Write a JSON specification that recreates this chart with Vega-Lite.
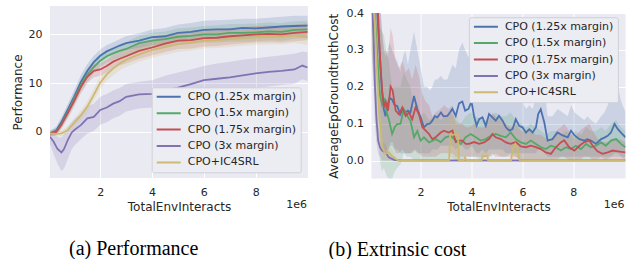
{
  "$schema": "https://vega.github.io/schema/vega-lite/v6.json",
  "padding": {"left": 11, "top": 6, "right": 0, "bottom": 0},
  "background": "white",
  "config": {
    "view": {"fill": "#EAEAF2", "stroke": null},
    "axis": {"domain": false, "ticks": false, "grid": true, "gridColor": "white", "gridWidth": 1, "labelFont": "DejaVu Sans", "labelFontSize": 11, "labelColor": "#262626", "labelPadding": 8, "labelFlush": false, "titleFont": "DejaVu Sans", "titleFontSize": 12, "titleFontWeight": "normal", "titleColor": "#262626"},
    "legend": {"labelFont": "DejaVu Sans", "labelFontSize": 11, "labelColor": "#262626", "symbolType": "stroke", "symbolSize": 576, "symbolStrokeWidth": 2, "clipHeight": 11, "padding": 4, "rowPadding": 4.4, "labelOffset": 6, "fillColor": "#ECECF3", "strokeColor": "#D0D0D8", "cornerRadius": 2},
    "title": {"font": "Liberation Serif", "fontSize": 20, "fontWeight": "normal", "color": "black", "orient": "bottom", "anchor": "start", "frame": "group", "offset": 27}
  },
  "resolve": {"scale": {"color": "independent"}, "legend": {"color": "independent"}},
  "spacing": 18.5,
  "datasets": {
    "perf": [
      {"s": "CPO (1.25x margin)", "x": 0.06, "y": -0.3, "lo": -0.8, "hi": 0.2},
      {"s": "CPO (1.25x margin)", "x": 0.3, "y": 0.3, "lo": -0.5, "hi": 1.1},
      {"s": "CPO (1.25x margin)", "x": 0.5, "y": 2.0, "lo": 1.0, "hi": 3.0},
      {"s": "CPO (1.25x margin)", "x": 0.75, "y": 4.6, "lo": 3.4, "hi": 5.8},
      {"s": "CPO (1.25x margin)", "x": 1.0, "y": 7.3, "lo": 6.0, "hi": 8.6},
      {"s": "CPO (1.25x margin)", "x": 1.25, "y": 10.2, "lo": 8.8, "hi": 11.6},
      {"s": "CPO (1.25x margin)", "x": 1.5, "y": 12.5, "lo": 11.1, "hi": 13.9},
      {"s": "CPO (1.25x margin)", "x": 1.75, "y": 14.3, "lo": 13.0, "hi": 15.6},
      {"s": "CPO (1.25x margin)", "x": 2.0, "y": 15.6, "lo": 14.3, "hi": 16.9},
      {"s": "CPO (1.25x margin)", "x": 2.25, "y": 16.5, "lo": 15.2, "hi": 17.8},
      {"s": "CPO (1.25x margin)", "x": 2.5, "y": 17.1, "lo": 15.9, "hi": 18.4},
      {"s": "CPO (1.25x margin)", "x": 2.75, "y": 17.7, "lo": 16.4, "hi": 19.0},
      {"s": "CPO (1.25x margin)", "x": 3.0, "y": 18.2, "lo": 16.8, "hi": 19.6},
      {"s": "CPO (1.25x margin)", "x": 3.5, "y": 18.7, "lo": 17.2, "hi": 20.2},
      {"s": "CPO (1.25x margin)", "x": 4.0, "y": 19.4, "lo": 17.8, "hi": 21.0},
      {"s": "CPO (1.25x margin)", "x": 4.5, "y": 19.6, "lo": 17.9, "hi": 21.3},
      {"s": "CPO (1.25x margin)", "x": 5.0, "y": 20.3, "lo": 18.5, "hi": 22.0},
      {"s": "CPO (1.25x margin)", "x": 5.5, "y": 20.5, "lo": 18.7, "hi": 22.3},
      {"s": "CPO (1.25x margin)", "x": 6.0, "y": 20.9, "lo": 19.0, "hi": 22.8},
      {"s": "CPO (1.25x margin)", "x": 6.5, "y": 21.0, "lo": 19.1, "hi": 22.9},
      {"s": "CPO (1.25x margin)", "x": 7.0, "y": 21.0, "lo": 19.1, "hi": 23.0},
      {"s": "CPO (1.25x margin)", "x": 7.5, "y": 21.3, "lo": 19.3, "hi": 23.2},
      {"s": "CPO (1.25x margin)", "x": 8.0, "y": 21.2, "lo": 19.3, "hi": 23.2},
      {"s": "CPO (1.25x margin)", "x": 8.5, "y": 21.4, "lo": 19.4, "hi": 23.4},
      {"s": "CPO (1.25x margin)", "x": 9.0, "y": 21.6, "lo": 19.6, "hi": 23.6},
      {"s": "CPO (1.25x margin)", "x": 9.5, "y": 21.7, "lo": 19.7, "hi": 23.8},
      {"s": "CPO (1.25x margin)", "x": 10.0, "y": 21.8, "lo": 19.8, "hi": 23.8},
      {"s": "CPO (1.5x margin)", "x": 0.06, "y": -0.3, "lo": -0.8, "hi": 0.2},
      {"s": "CPO (1.5x margin)", "x": 0.3, "y": 0.1, "lo": -0.6, "hi": 0.8},
      {"s": "CPO (1.5x margin)", "x": 0.5, "y": 1.6, "lo": 0.7, "hi": 2.5},
      {"s": "CPO (1.5x margin)", "x": 0.75, "y": 4.1, "lo": 3.0, "hi": 5.2},
      {"s": "CPO (1.5x margin)", "x": 1.0, "y": 6.8, "lo": 5.6, "hi": 8.0},
      {"s": "CPO (1.5x margin)", "x": 1.25, "y": 9.6, "lo": 8.3, "hi": 10.9},
      {"s": "CPO (1.5x margin)", "x": 1.5, "y": 11.7, "lo": 10.3, "hi": 13.1},
      {"s": "CPO (1.5x margin)", "x": 1.75, "y": 13.3, "lo": 12.0, "hi": 14.6},
      {"s": "CPO (1.5x margin)", "x": 2.0, "y": 14.6, "lo": 13.3, "hi": 15.9},
      {"s": "CPO (1.5x margin)", "x": 2.25, "y": 15.5, "lo": 14.2, "hi": 16.8},
      {"s": "CPO (1.5x margin)", "x": 2.5, "y": 16.1, "lo": 14.8, "hi": 17.4},
      {"s": "CPO (1.5x margin)", "x": 2.75, "y": 16.6, "lo": 15.3, "hi": 17.9},
      {"s": "CPO (1.5x margin)", "x": 3.0, "y": 17.0, "lo": 15.6, "hi": 18.4},
      {"s": "CPO (1.5x margin)", "x": 3.5, "y": 18.2, "lo": 16.7, "hi": 19.7},
      {"s": "CPO (1.5x margin)", "x": 4.0, "y": 18.7, "lo": 17.1, "hi": 20.3},
      {"s": "CPO (1.5x margin)", "x": 4.5, "y": 19.0, "lo": 17.4, "hi": 20.6},
      {"s": "CPO (1.5x margin)", "x": 5.0, "y": 19.5, "lo": 17.8, "hi": 21.2},
      {"s": "CPO (1.5x margin)", "x": 5.5, "y": 19.7, "lo": 18.0, "hi": 21.4},
      {"s": "CPO (1.5x margin)", "x": 6.0, "y": 20.0, "lo": 18.3, "hi": 21.7},
      {"s": "CPO (1.5x margin)", "x": 6.5, "y": 20.0, "lo": 18.3, "hi": 21.8},
      {"s": "CPO (1.5x margin)", "x": 7.0, "y": 20.3, "lo": 18.5, "hi": 22.1},
      {"s": "CPO (1.5x margin)", "x": 7.5, "y": 20.3, "lo": 18.5, "hi": 22.1},
      {"s": "CPO (1.5x margin)", "x": 8.0, "y": 20.4, "lo": 18.6, "hi": 22.2},
      {"s": "CPO (1.5x margin)", "x": 8.5, "y": 20.6, "lo": 18.8, "hi": 22.4},
      {"s": "CPO (1.5x margin)", "x": 9.0, "y": 20.5, "lo": 18.7, "hi": 22.3},
      {"s": "CPO (1.5x margin)", "x": 9.5, "y": 20.9, "lo": 19.1, "hi": 22.7},
      {"s": "CPO (1.5x margin)", "x": 10.0, "y": 21.0, "lo": 19.2, "hi": 22.8},
      {"s": "CPO (1.75x margin)", "x": 0.06, "y": -0.3, "lo": -0.8, "hi": 0.2},
      {"s": "CPO (1.75x margin)", "x": 0.3, "y": 0.0, "lo": -0.7, "hi": 0.7},
      {"s": "CPO (1.75x margin)", "x": 0.5, "y": 1.5, "lo": 0.6, "hi": 2.4},
      {"s": "CPO (1.75x margin)", "x": 0.75, "y": 3.9, "lo": 2.8, "hi": 5.0},
      {"s": "CPO (1.75x margin)", "x": 1.0, "y": 6.4, "lo": 5.2, "hi": 7.6},
      {"s": "CPO (1.75x margin)", "x": 1.25, "y": 9.2, "lo": 7.9, "hi": 10.5},
      {"s": "CPO (1.75x margin)", "x": 1.5, "y": 11.3, "lo": 10.0, "hi": 12.6},
      {"s": "CPO (1.75x margin)", "x": 1.75, "y": 12.5, "lo": 11.2, "hi": 13.8},
      {"s": "CPO (1.75x margin)", "x": 2.0, "y": 12.8, "lo": 11.5, "hi": 14.1},
      {"s": "CPO (1.75x margin)", "x": 2.25, "y": 13.5, "lo": 12.2, "hi": 14.8},
      {"s": "CPO (1.75x margin)", "x": 2.5, "y": 14.4, "lo": 13.0, "hi": 15.8},
      {"s": "CPO (1.75x margin)", "x": 2.75, "y": 15.0, "lo": 13.6, "hi": 16.4},
      {"s": "CPO (1.75x margin)", "x": 3.0, "y": 15.5, "lo": 14.0, "hi": 17.0},
      {"s": "CPO (1.75x margin)", "x": 3.5, "y": 16.6, "lo": 15.0, "hi": 18.2},
      {"s": "CPO (1.75x margin)", "x": 4.0, "y": 17.3, "lo": 15.7, "hi": 18.9},
      {"s": "CPO (1.75x margin)", "x": 4.5, "y": 18.1, "lo": 16.4, "hi": 19.8},
      {"s": "CPO (1.75x margin)", "x": 5.0, "y": 18.7, "lo": 17.0, "hi": 20.4},
      {"s": "CPO (1.75x margin)", "x": 5.5, "y": 18.8, "lo": 17.1, "hi": 20.5},
      {"s": "CPO (1.75x margin)", "x": 6.0, "y": 19.2, "lo": 17.5, "hi": 20.9},
      {"s": "CPO (1.75x margin)", "x": 6.5, "y": 19.3, "lo": 17.6, "hi": 21.0},
      {"s": "CPO (1.75x margin)", "x": 7.0, "y": 19.6, "lo": 17.9, "hi": 21.3},
      {"s": "CPO (1.75x margin)", "x": 7.5, "y": 19.8, "lo": 18.1, "hi": 21.5},
      {"s": "CPO (1.75x margin)", "x": 8.0, "y": 20.0, "lo": 18.3, "hi": 21.7},
      {"s": "CPO (1.75x margin)", "x": 8.5, "y": 20.1, "lo": 18.4, "hi": 21.8},
      {"s": "CPO (1.75x margin)", "x": 9.0, "y": 20.0, "lo": 18.3, "hi": 21.7},
      {"s": "CPO (1.75x margin)", "x": 9.5, "y": 20.3, "lo": 18.6, "hi": 22.0},
      {"s": "CPO (1.75x margin)", "x": 10.0, "y": 20.5, "lo": 18.8, "hi": 22.2},
      {"s": "CPO (3x margin)", "x": 0.06, "y": -1.0, "lo": -2.5, "hi": 0.0},
      {"s": "CPO (3x margin)", "x": 0.2, "y": -2.0, "lo": -4.5, "hi": -0.3},
      {"s": "CPO (3x margin)", "x": 0.35, "y": -3.5, "lo": -6.5, "hi": -1.0},
      {"s": "CPO (3x margin)", "x": 0.5, "y": -4.2, "lo": -8.0, "hi": -1.2},
      {"s": "CPO (3x margin)", "x": 0.6, "y": -3.5, "lo": -7.5, "hi": -0.5},
      {"s": "CPO (3x margin)", "x": 0.75, "y": -1.6, "lo": -5.5, "hi": 1.0},
      {"s": "CPO (3x margin)", "x": 0.9, "y": -0.1, "lo": -3.5, "hi": 2.0},
      {"s": "CPO (3x margin)", "x": 1.0, "y": 0.4, "lo": -2.8, "hi": 2.6},
      {"s": "CPO (3x margin)", "x": 1.25, "y": 1.4, "lo": -1.5, "hi": 3.8},
      {"s": "CPO (3x margin)", "x": 1.5, "y": 2.8, "lo": -0.3, "hi": 5.2},
      {"s": "CPO (3x margin)", "x": 1.75, "y": 3.1, "lo": 0.2, "hi": 5.8},
      {"s": "CPO (3x margin)", "x": 2.0, "y": 4.5, "lo": 1.5, "hi": 7.2},
      {"s": "CPO (3x margin)", "x": 2.25, "y": 5.0, "lo": 2.0, "hi": 7.8},
      {"s": "CPO (3x margin)", "x": 2.5, "y": 5.8, "lo": 2.8, "hi": 8.5},
      {"s": "CPO (3x margin)", "x": 2.75, "y": 6.3, "lo": 3.3, "hi": 9.0},
      {"s": "CPO (3x margin)", "x": 3.0, "y": 7.2, "lo": 4.2, "hi": 9.8},
      {"s": "CPO (3x margin)", "x": 3.5, "y": 7.7, "lo": 4.8, "hi": 10.3},
      {"s": "CPO (3x margin)", "x": 4.0, "y": 7.8, "lo": 5.0, "hi": 10.6},
      {"s": "CPO (3x margin)", "x": 4.5, "y": 8.5, "lo": 5.6, "hi": 11.5},
      {"s": "CPO (3x margin)", "x": 5.0, "y": 9.1, "lo": 6.2, "hi": 12.2},
      {"s": "CPO (3x margin)", "x": 5.5, "y": 9.8, "lo": 6.8, "hi": 12.8},
      {"s": "CPO (3x margin)", "x": 6.0, "y": 10.6, "lo": 7.6, "hi": 13.5},
      {"s": "CPO (3x margin)", "x": 6.5, "y": 10.9, "lo": 7.9, "hi": 14.0},
      {"s": "CPO (3x margin)", "x": 7.0, "y": 11.2, "lo": 8.2, "hi": 14.4},
      {"s": "CPO (3x margin)", "x": 7.5, "y": 11.6, "lo": 8.5, "hi": 14.8},
      {"s": "CPO (3x margin)", "x": 8.0, "y": 12.0, "lo": 9.0, "hi": 15.1},
      {"s": "CPO (3x margin)", "x": 8.5, "y": 12.3, "lo": 9.3, "hi": 15.4},
      {"s": "CPO (3x margin)", "x": 9.0, "y": 12.5, "lo": 9.6, "hi": 15.7},
      {"s": "CPO (3x margin)", "x": 9.5, "y": 12.8, "lo": 9.9, "hi": 16.0},
      {"s": "CPO (3x margin)", "x": 9.8, "y": 13.6, "lo": 10.8, "hi": 16.5},
      {"s": "CPO (3x margin)", "x": 10.0, "y": 13.2, "lo": 10.4, "hi": 16.3},
      {"s": "CPO+IC4SRL", "x": 0.06, "y": -0.3, "lo": -0.8, "hi": 0.2},
      {"s": "CPO+IC4SRL", "x": 0.3, "y": -0.4, "lo": -0.9, "hi": 0.1},
      {"s": "CPO+IC4SRL", "x": 0.5, "y": -0.3, "lo": -0.9, "hi": 0.3},
      {"s": "CPO+IC4SRL", "x": 0.75, "y": 0.4, "lo": -0.3, "hi": 1.1},
      {"s": "CPO+IC4SRL", "x": 1.0, "y": 1.9, "lo": 1.0, "hi": 2.8},
      {"s": "CPO+IC4SRL", "x": 1.25, "y": 3.4, "lo": 2.4, "hi": 4.4},
      {"s": "CPO+IC4SRL", "x": 1.5, "y": 5.2, "lo": 4.1, "hi": 6.3},
      {"s": "CPO+IC4SRL", "x": 1.75, "y": 7.6, "lo": 6.4, "hi": 8.8},
      {"s": "CPO+IC4SRL", "x": 2.0, "y": 10.1, "lo": 8.8, "hi": 11.4},
      {"s": "CPO+IC4SRL", "x": 2.25, "y": 11.8, "lo": 10.5, "hi": 13.1},
      {"s": "CPO+IC4SRL", "x": 2.5, "y": 13.0, "lo": 11.6, "hi": 14.4},
      {"s": "CPO+IC4SRL", "x": 2.75, "y": 14.0, "lo": 12.6, "hi": 15.4},
      {"s": "CPO+IC4SRL", "x": 3.0, "y": 14.8, "lo": 13.3, "hi": 16.3},
      {"s": "CPO+IC4SRL", "x": 3.5, "y": 15.9, "lo": 14.4, "hi": 17.4},
      {"s": "CPO+IC4SRL", "x": 4.0, "y": 16.8, "lo": 15.2, "hi": 18.4},
      {"s": "CPO+IC4SRL", "x": 4.5, "y": 17.4, "lo": 15.8, "hi": 19.0},
      {"s": "CPO+IC4SRL", "x": 5.0, "y": 18.0, "lo": 16.4, "hi": 19.6},
      {"s": "CPO+IC4SRL", "x": 5.5, "y": 18.3, "lo": 16.7, "hi": 19.9},
      {"s": "CPO+IC4SRL", "x": 6.0, "y": 18.7, "lo": 17.1, "hi": 20.3},
      {"s": "CPO+IC4SRL", "x": 6.5, "y": 18.8, "lo": 17.2, "hi": 20.4},
      {"s": "CPO+IC4SRL", "x": 7.0, "y": 19.0, "lo": 17.4, "hi": 20.6},
      {"s": "CPO+IC4SRL", "x": 7.5, "y": 19.2, "lo": 17.6, "hi": 20.8},
      {"s": "CPO+IC4SRL", "x": 8.0, "y": 19.4, "lo": 17.8, "hi": 21.0},
      {"s": "CPO+IC4SRL", "x": 8.5, "y": 19.5, "lo": 17.9, "hi": 21.1},
      {"s": "CPO+IC4SRL", "x": 9.0, "y": 19.5, "lo": 17.9, "hi": 21.1},
      {"s": "CPO+IC4SRL", "x": 9.5, "y": 19.8, "lo": 18.2, "hi": 21.4},
      {"s": "CPO+IC4SRL", "x": 10.0, "y": 19.4, "lo": 17.8, "hi": 21.0}
    ],
    "cost": [
      {"s": "CPO (1.25x margin)", "x": 0.07, "y": 0.55, "lo": 0.35, "hi": 0.8},
      {"s": "CPO (1.25x margin)", "x": 0.2, "y": 0.48, "lo": 0.3, "hi": 0.7},
      {"s": "CPO (1.25x margin)", "x": 0.3, "y": 0.4, "lo": 0.22, "hi": 0.6},
      {"s": "CPO (1.25x margin)", "x": 0.4, "y": 0.28, "lo": 0.12, "hi": 0.45},
      {"s": "CPO (1.25x margin)", "x": 0.48, "y": 0.19, "lo": 0.06, "hi": 0.35},
      {"s": "CPO (1.25x margin)", "x": 0.55, "y": 0.14, "lo": 0.03, "hi": 0.3},
      {"s": "CPO (1.25x margin)", "x": 0.62, "y": 0.12, "lo": 0.02, "hi": 0.28},
      {"s": "CPO (1.25x margin)", "x": 0.7, "y": 0.15, "lo": 0.03, "hi": 0.3},
      {"s": "CPO (1.25x margin)", "x": 0.78, "y": 0.17, "lo": 0.04, "hi": 0.32},
      {"s": "CPO (1.25x margin)", "x": 0.88, "y": 0.165, "lo": 0.04, "hi": 0.3},
      {"s": "CPO (1.25x margin)", "x": 0.98, "y": 0.15, "lo": 0.03, "hi": 0.28},
      {"s": "CPO (1.25x margin)", "x": 1.08, "y": 0.148, "lo": 0.03, "hi": 0.27},
      {"s": "CPO (1.25x margin)", "x": 1.2, "y": 0.125, "lo": 0.02, "hi": 0.24},
      {"s": "CPO (1.25x margin)", "x": 1.3, "y": 0.14, "lo": 0.02, "hi": 0.28},
      {"s": "CPO (1.25x margin)", "x": 1.4, "y": 0.13, "lo": 0.02, "hi": 0.3},
      {"s": "CPO (1.25x margin)", "x": 1.5, "y": 0.135, "lo": 0.02, "hi": 0.26},
      {"s": "CPO (1.25x margin)", "x": 1.6, "y": 0.13, "lo": 0.02, "hi": 0.3},
      {"s": "CPO (1.25x margin)", "x": 1.74, "y": 0.175, "lo": 0.03, "hi": 0.35},
      {"s": "CPO (1.25x margin)", "x": 1.87, "y": 0.139, "lo": 0.02, "hi": 0.3},
      {"s": "CPO (1.25x margin)", "x": 2.0, "y": 0.117, "lo": 0.02, "hi": 0.25},
      {"s": "CPO (1.25x margin)", "x": 2.13, "y": 0.09, "lo": 0.02, "hi": 0.2},
      {"s": "CPO (1.25x margin)", "x": 2.26, "y": 0.099, "lo": 0.02, "hi": 0.2},
      {"s": "CPO (1.25x margin)", "x": 2.36, "y": 0.1, "lo": 0.02, "hi": 0.19},
      {"s": "CPO (1.25x margin)", "x": 2.46, "y": 0.108, "lo": 0.03, "hi": 0.2},
      {"s": "CPO (1.25x margin)", "x": 2.56, "y": 0.12, "lo": 0.03, "hi": 0.22},
      {"s": "CPO (1.25x margin)", "x": 2.66, "y": 0.117, "lo": 0.03, "hi": 0.22},
      {"s": "CPO (1.25x margin)", "x": 2.8, "y": 0.13, "lo": 0.04, "hi": 0.23},
      {"s": "CPO (1.25x margin)", "x": 2.9, "y": 0.12, "lo": 0.04, "hi": 0.22},
      {"s": "CPO (1.25x margin)", "x": 3.05, "y": 0.121, "lo": 0.04, "hi": 0.22},
      {"s": "CPO (1.25x margin)", "x": 3.15, "y": 0.13, "lo": 0.04, "hi": 0.24},
      {"s": "CPO (1.25x margin)", "x": 3.25, "y": 0.14, "lo": 0.04, "hi": 0.26},
      {"s": "CPO (1.25x margin)", "x": 3.38, "y": 0.121, "lo": 0.03, "hi": 0.25},
      {"s": "CPO (1.25x margin)", "x": 3.51, "y": 0.155, "lo": 0.04, "hi": 0.3},
      {"s": "CPO (1.25x margin)", "x": 3.64, "y": 0.16, "lo": 0.04, "hi": 0.32},
      {"s": "CPO (1.25x margin)", "x": 3.75, "y": 0.135, "lo": 0.03, "hi": 0.3},
      {"s": "CPO (1.25x margin)", "x": 3.88, "y": 0.14, "lo": 0.03, "hi": 0.28},
      {"s": "CPO (1.25x margin)", "x": 4.0, "y": 0.16, "lo": 0.04, "hi": 0.3},
      {"s": "CPO (1.25x margin)", "x": 4.1, "y": 0.12, "lo": 0.03, "hi": 0.27},
      {"s": "CPO (1.25x margin)", "x": 4.2, "y": 0.095, "lo": 0.02, "hi": 0.22},
      {"s": "CPO (1.25x margin)", "x": 4.3, "y": 0.112, "lo": 0.02, "hi": 0.22},
      {"s": "CPO (1.25x margin)", "x": 4.43, "y": 0.117, "lo": 0.03, "hi": 0.2},
      {"s": "CPO (1.25x margin)", "x": 4.56, "y": 0.094, "lo": 0.02, "hi": 0.18},
      {"s": "CPO (1.25x margin)", "x": 4.69, "y": 0.126, "lo": 0.03, "hi": 0.2},
      {"s": "CPO (1.25x margin)", "x": 4.82, "y": 0.117, "lo": 0.03, "hi": 0.2},
      {"s": "CPO (1.25x margin)", "x": 4.95, "y": 0.108, "lo": 0.03, "hi": 0.19},
      {"s": "CPO (1.25x margin)", "x": 5.08, "y": 0.121, "lo": 0.03, "hi": 0.2},
      {"s": "CPO (1.25x margin)", "x": 5.22, "y": 0.108, "lo": 0.03, "hi": 0.19},
      {"s": "CPO (1.25x margin)", "x": 5.35, "y": 0.09, "lo": 0.02, "hi": 0.17},
      {"s": "CPO (1.25x margin)", "x": 5.48, "y": 0.081, "lo": 0.02, "hi": 0.16},
      {"s": "CPO (1.25x margin)", "x": 5.61, "y": 0.085, "lo": 0.02, "hi": 0.16},
      {"s": "CPO (1.25x margin)", "x": 5.74, "y": 0.112, "lo": 0.02, "hi": 0.2},
      {"s": "CPO (1.25x margin)", "x": 5.87, "y": 0.094, "lo": 0.02, "hi": 0.17},
      {"s": "CPO (1.25x margin)", "x": 6.0, "y": 0.09, "lo": 0.02, "hi": 0.16},
      {"s": "CPO (1.25x margin)", "x": 6.14, "y": 0.076, "lo": 0.02, "hi": 0.14},
      {"s": "CPO (1.25x margin)", "x": 6.27, "y": 0.085, "lo": 0.02, "hi": 0.15},
      {"s": "CPO (1.25x margin)", "x": 6.4, "y": 0.076, "lo": 0.02, "hi": 0.14},
      {"s": "CPO (1.25x margin)", "x": 6.53, "y": 0.09, "lo": 0.02, "hi": 0.17},
      {"s": "CPO (1.25x margin)", "x": 6.62, "y": 0.126, "lo": 0.03, "hi": 0.22},
      {"s": "CPO (1.25x margin)", "x": 6.72, "y": 0.139, "lo": 0.03, "hi": 0.24},
      {"s": "CPO (1.25x margin)", "x": 6.86, "y": 0.103, "lo": 0.02, "hi": 0.2},
      {"s": "CPO (1.25x margin)", "x": 6.99, "y": 0.054, "lo": 0.01, "hi": 0.12},
      {"s": "CPO (1.25x margin)", "x": 7.18, "y": 0.058, "lo": 0.01, "hi": 0.12},
      {"s": "CPO (1.25x margin)", "x": 7.38, "y": 0.076, "lo": 0.01, "hi": 0.14},
      {"s": "CPO (1.25x margin)", "x": 7.58, "y": 0.068, "lo": 0.01, "hi": 0.13},
      {"s": "CPO (1.25x margin)", "x": 7.78, "y": 0.063, "lo": 0.01, "hi": 0.12},
      {"s": "CPO (1.25x margin)", "x": 7.91, "y": 0.081, "lo": 0.01, "hi": 0.15},
      {"s": "CPO (1.25x margin)", "x": 8.05, "y": 0.068, "lo": 0.01, "hi": 0.13},
      {"s": "CPO (1.25x margin)", "x": 8.24, "y": 0.058, "lo": 0.01, "hi": 0.12},
      {"s": "CPO (1.25x margin)", "x": 8.43, "y": 0.054, "lo": 0.01, "hi": 0.11},
      {"s": "CPO (1.25x margin)", "x": 8.56, "y": 0.058, "lo": 0.01, "hi": 0.12},
      {"s": "CPO (1.25x margin)", "x": 8.69, "y": 0.054, "lo": 0.01, "hi": 0.11},
      {"s": "CPO (1.25x margin)", "x": 8.89, "y": 0.045, "lo": 0.01, "hi": 0.1},
      {"s": "CPO (1.25x margin)", "x": 9.09, "y": 0.058, "lo": 0.01, "hi": 0.12},
      {"s": "CPO (1.25x margin)", "x": 9.22, "y": 0.062, "lo": 0.01, "hi": 0.13},
      {"s": "CPO (1.25x margin)", "x": 9.35, "y": 0.067, "lo": 0.01, "hi": 0.15},
      {"s": "CPO (1.25x margin)", "x": 9.48, "y": 0.076, "lo": 0.01, "hi": 0.18},
      {"s": "CPO (1.25x margin)", "x": 9.62, "y": 0.099, "lo": 0.02, "hi": 0.22},
      {"s": "CPO (1.25x margin)", "x": 9.75, "y": 0.085, "lo": 0.02, "hi": 0.2},
      {"s": "CPO (1.25x margin)", "x": 9.88, "y": 0.075, "lo": 0.01, "hi": 0.16},
      {"s": "CPO (1.25x margin)", "x": 10.05, "y": 0.063, "lo": 0.01, "hi": 0.13},
      {"s": "CPO (1.5x margin)", "x": 0.07, "y": 0.5, "lo": 0.3, "hi": 0.7},
      {"s": "CPO (1.5x margin)", "x": 0.2, "y": 0.4, "lo": 0.2, "hi": 0.6},
      {"s": "CPO (1.5x margin)", "x": 0.3, "y": 0.28, "lo": 0.1, "hi": 0.45},
      {"s": "CPO (1.5x margin)", "x": 0.4, "y": 0.18, "lo": 0.0, "hi": 0.36},
      {"s": "CPO (1.5x margin)", "x": 0.48, "y": 0.153, "lo": -0.03, "hi": 0.35},
      {"s": "CPO (1.5x margin)", "x": 0.56, "y": 0.17, "lo": -0.02, "hi": 0.34},
      {"s": "CPO (1.5x margin)", "x": 0.65, "y": 0.135, "lo": -0.04, "hi": 0.3},
      {"s": "CPO (1.5x margin)", "x": 0.75, "y": 0.112, "lo": -0.05, "hi": 0.27},
      {"s": "CPO (1.5x margin)", "x": 0.88, "y": 0.072, "lo": -0.05, "hi": 0.2},
      {"s": "CPO (1.5x margin)", "x": 0.98, "y": 0.09, "lo": -0.03, "hi": 0.2},
      {"s": "CPO (1.5x margin)", "x": 1.08, "y": 0.099, "lo": -0.02, "hi": 0.2},
      {"s": "CPO (1.5x margin)", "x": 1.21, "y": 0.1, "lo": -0.01, "hi": 0.2},
      {"s": "CPO (1.5x margin)", "x": 1.34, "y": 0.139, "lo": 0.02, "hi": 0.24},
      {"s": "CPO (1.5x margin)", "x": 1.47, "y": 0.121, "lo": 0.01, "hi": 0.22},
      {"s": "CPO (1.5x margin)", "x": 1.6, "y": 0.108, "lo": 0.01, "hi": 0.2},
      {"s": "CPO (1.5x margin)", "x": 1.74, "y": 0.063, "lo": 0.0, "hi": 0.14},
      {"s": "CPO (1.5x margin)", "x": 1.87, "y": 0.08, "lo": 0.0, "hi": 0.16},
      {"s": "CPO (1.5x margin)", "x": 2.0, "y": 0.054, "lo": 0.0, "hi": 0.12},
      {"s": "CPO (1.5x margin)", "x": 2.13, "y": 0.063, "lo": 0.0, "hi": 0.13},
      {"s": "CPO (1.5x margin)", "x": 2.33, "y": 0.049, "lo": 0.0, "hi": 0.11},
      {"s": "CPO (1.5x margin)", "x": 2.59, "y": 0.058, "lo": 0.0, "hi": 0.12},
      {"s": "CPO (1.5x margin)", "x": 2.79, "y": 0.05, "lo": 0.0, "hi": 0.11},
      {"s": "CPO (1.5x margin)", "x": 2.98, "y": 0.063, "lo": 0.0, "hi": 0.12},
      {"s": "CPO (1.5x margin)", "x": 3.18, "y": 0.067, "lo": 0.01, "hi": 0.13},
      {"s": "CPO (1.5x margin)", "x": 3.38, "y": 0.054, "lo": 0.0, "hi": 0.11},
      {"s": "CPO (1.5x margin)", "x": 3.58, "y": 0.045, "lo": 0.0, "hi": 0.1},
      {"s": "CPO (1.5x margin)", "x": 3.77, "y": 0.063, "lo": 0.01, "hi": 0.12},
      {"s": "CPO (1.5x margin)", "x": 3.97, "y": 0.072, "lo": 0.01, "hi": 0.13},
      {"s": "CPO (1.5x margin)", "x": 4.17, "y": 0.063, "lo": 0.01, "hi": 0.12},
      {"s": "CPO (1.5x margin)", "x": 4.36, "y": 0.054, "lo": 0.0, "hi": 0.11},
      {"s": "CPO (1.5x margin)", "x": 4.56, "y": 0.058, "lo": 0.01, "hi": 0.11},
      {"s": "CPO (1.5x margin)", "x": 4.76, "y": 0.067, "lo": 0.01, "hi": 0.12},
      {"s": "CPO (1.5x margin)", "x": 4.95, "y": 0.072, "lo": 0.02, "hi": 0.13},
      {"s": "CPO (1.5x margin)", "x": 5.15, "y": 0.067, "lo": 0.01, "hi": 0.12},
      {"s": "CPO (1.5x margin)", "x": 5.35, "y": 0.063, "lo": 0.01, "hi": 0.12},
      {"s": "CPO (1.5x margin)", "x": 5.54, "y": 0.076, "lo": 0.02, "hi": 0.13},
      {"s": "CPO (1.5x margin)", "x": 5.74, "y": 0.058, "lo": 0.01, "hi": 0.11},
      {"s": "CPO (1.5x margin)", "x": 5.94, "y": 0.049, "lo": 0.0, "hi": 0.1},
      {"s": "CPO (1.5x margin)", "x": 6.14, "y": 0.045, "lo": 0.0, "hi": 0.09},
      {"s": "CPO (1.5x margin)", "x": 6.33, "y": 0.054, "lo": 0.0, "hi": 0.1},
      {"s": "CPO (1.5x margin)", "x": 6.53, "y": 0.045, "lo": 0.0, "hi": 0.09},
      {"s": "CPO (1.5x margin)", "x": 6.73, "y": 0.036, "lo": 0.0, "hi": 0.08},
      {"s": "CPO (1.5x margin)", "x": 6.92, "y": 0.031, "lo": 0.0, "hi": 0.07},
      {"s": "CPO (1.5x margin)", "x": 7.12, "y": 0.04, "lo": 0.0, "hi": 0.08},
      {"s": "CPO (1.5x margin)", "x": 7.31, "y": 0.036, "lo": 0.0, "hi": 0.08},
      {"s": "CPO (1.5x margin)", "x": 7.51, "y": 0.027, "lo": 0.0, "hi": 0.07},
      {"s": "CPO (1.5x margin)", "x": 7.71, "y": 0.036, "lo": 0.0, "hi": 0.08},
      {"s": "CPO (1.5x margin)", "x": 7.9, "y": 0.031, "lo": 0.0, "hi": 0.07},
      {"s": "CPO (1.5x margin)", "x": 8.1, "y": 0.04, "lo": 0.0, "hi": 0.08},
      {"s": "CPO (1.5x margin)", "x": 8.3, "y": 0.031, "lo": 0.0, "hi": 0.07},
      {"s": "CPO (1.5x margin)", "x": 8.5, "y": 0.045, "lo": 0.0, "hi": 0.09},
      {"s": "CPO (1.5x margin)", "x": 8.69, "y": 0.036, "lo": 0.0, "hi": 0.08},
      {"s": "CPO (1.5x margin)", "x": 8.89, "y": 0.04, "lo": 0.0, "hi": 0.08},
      {"s": "CPO (1.5x margin)", "x": 9.09, "y": 0.049, "lo": 0.01, "hi": 0.09},
      {"s": "CPO (1.5x margin)", "x": 9.28, "y": 0.04, "lo": 0.0, "hi": 0.08},
      {"s": "CPO (1.5x margin)", "x": 9.48, "y": 0.054, "lo": 0.01, "hi": 0.1},
      {"s": "CPO (1.5x margin)", "x": 9.68, "y": 0.058, "lo": 0.01, "hi": 0.11},
      {"s": "CPO (1.5x margin)", "x": 9.87, "y": 0.045, "lo": 0.01, "hi": 0.09},
      {"s": "CPO (1.5x margin)", "x": 10.05, "y": 0.036, "lo": 0.0, "hi": 0.08},
      {"s": "CPO (1.75x margin)", "x": 0.07, "y": 0.6, "lo": 0.4, "hi": 0.8},
      {"s": "CPO (1.75x margin)", "x": 0.2, "y": 0.52, "lo": 0.35, "hi": 0.7},
      {"s": "CPO (1.75x margin)", "x": 0.3, "y": 0.45, "lo": 0.3, "hi": 0.62},
      {"s": "CPO (1.75x margin)", "x": 0.36, "y": 0.34, "lo": 0.2, "hi": 0.5},
      {"s": "CPO (1.75x margin)", "x": 0.43, "y": 0.25, "lo": 0.1, "hi": 0.4},
      {"s": "CPO (1.75x margin)", "x": 0.49, "y": 0.19, "lo": 0.05, "hi": 0.35},
      {"s": "CPO (1.75x margin)", "x": 0.56, "y": 0.144, "lo": 0.02, "hi": 0.3},
      {"s": "CPO (1.75x margin)", "x": 0.63, "y": 0.16, "lo": 0.03, "hi": 0.3},
      {"s": "CPO (1.75x margin)", "x": 0.72, "y": 0.135, "lo": 0.02, "hi": 0.28},
      {"s": "CPO (1.75x margin)", "x": 0.82, "y": 0.2, "lo": 0.05, "hi": 0.36},
      {"s": "CPO (1.75x margin)", "x": 0.9, "y": 0.19, "lo": 0.05, "hi": 0.34},
      {"s": "CPO (1.75x margin)", "x": 1.02, "y": 0.135, "lo": 0.02, "hi": 0.27},
      {"s": "CPO (1.75x margin)", "x": 1.15, "y": 0.125, "lo": 0.02, "hi": 0.25},
      {"s": "CPO (1.75x margin)", "x": 1.28, "y": 0.144, "lo": 0.03, "hi": 0.27},
      {"s": "CPO (1.75x margin)", "x": 1.41, "y": 0.121, "lo": 0.02, "hi": 0.24},
      {"s": "CPO (1.75x margin)", "x": 1.54, "y": 0.13, "lo": 0.02, "hi": 0.25},
      {"s": "CPO (1.75x margin)", "x": 1.67, "y": 0.112, "lo": 0.02, "hi": 0.22},
      {"s": "CPO (1.75x margin)", "x": 1.8, "y": 0.144, "lo": 0.03, "hi": 0.26},
      {"s": "CPO (1.75x margin)", "x": 1.93, "y": 0.126, "lo": 0.02, "hi": 0.23},
      {"s": "CPO (1.75x margin)", "x": 2.07, "y": 0.09, "lo": 0.01, "hi": 0.18},
      {"s": "CPO (1.75x margin)", "x": 2.2, "y": 0.081, "lo": 0.01, "hi": 0.16},
      {"s": "CPO (1.75x margin)", "x": 2.33, "y": 0.072, "lo": 0.01, "hi": 0.15},
      {"s": "CPO (1.75x margin)", "x": 2.46, "y": 0.058, "lo": 0.01, "hi": 0.12},
      {"s": "CPO (1.75x margin)", "x": 2.59, "y": 0.063, "lo": 0.01, "hi": 0.13},
      {"s": "CPO (1.75x margin)", "x": 2.79, "y": 0.076, "lo": 0.02, "hi": 0.14},
      {"s": "CPO (1.75x margin)", "x": 2.92, "y": 0.081, "lo": 0.02, "hi": 0.15},
      {"s": "CPO (1.75x margin)", "x": 3.1, "y": 0.076, "lo": 0.02, "hi": 0.14},
      {"s": "CPO (1.75x margin)", "x": 3.25, "y": 0.081, "lo": 0.02, "hi": 0.15},
      {"s": "CPO (1.75x margin)", "x": 3.38, "y": 0.05, "lo": 0.01, "hi": 0.1},
      {"s": "CPO (1.75x margin)", "x": 3.51, "y": 0.054, "lo": 0.01, "hi": 0.1},
      {"s": "CPO (1.75x margin)", "x": 3.64, "y": 0.054, "lo": 0.01, "hi": 0.1},
      {"s": "CPO (1.75x margin)", "x": 3.77, "y": 0.045, "lo": 0.01, "hi": 0.09},
      {"s": "CPO (1.75x margin)", "x": 3.9, "y": 0.045, "lo": 0.01, "hi": 0.09},
      {"s": "CPO (1.75x margin)", "x": 4.1, "y": 0.05, "lo": 0.01, "hi": 0.1},
      {"s": "CPO (1.75x margin)", "x": 4.3, "y": 0.045, "lo": 0.01, "hi": 0.09},
      {"s": "CPO (1.75x margin)", "x": 4.49, "y": 0.049, "lo": 0.01, "hi": 0.09},
      {"s": "CPO (1.75x margin)", "x": 4.69, "y": 0.058, "lo": 0.01, "hi": 0.11},
      {"s": "CPO (1.75x margin)", "x": 4.82, "y": 0.072, "lo": 0.02, "hi": 0.13},
      {"s": "CPO (1.75x margin)", "x": 4.95, "y": 0.063, "lo": 0.01, "hi": 0.12},
      {"s": "CPO (1.75x margin)", "x": 5.15, "y": 0.058, "lo": 0.01, "hi": 0.11},
      {"s": "CPO (1.75x margin)", "x": 5.35, "y": 0.049, "lo": 0.01, "hi": 0.1},
      {"s": "CPO (1.75x margin)", "x": 5.54, "y": 0.045, "lo": 0.01, "hi": 0.09},
      {"s": "CPO (1.75x margin)", "x": 5.74, "y": 0.05, "lo": 0.01, "hi": 0.1},
      {"s": "CPO (1.75x margin)", "x": 5.94, "y": 0.038, "lo": 0.0, "hi": 0.08},
      {"s": "CPO (1.75x margin)", "x": 6.14, "y": 0.036, "lo": 0.0, "hi": 0.08},
      {"s": "CPO (1.75x margin)", "x": 6.33, "y": 0.04, "lo": 0.0, "hi": 0.08},
      {"s": "CPO (1.75x margin)", "x": 6.53, "y": 0.036, "lo": 0.0, "hi": 0.07},
      {"s": "CPO (1.75x margin)", "x": 6.72, "y": 0.031, "lo": 0.0, "hi": 0.07},
      {"s": "CPO (1.75x margin)", "x": 6.92, "y": 0.022, "lo": 0.0, "hi": 0.06},
      {"s": "CPO (1.75x margin)", "x": 7.12, "y": 0.018, "lo": 0.0, "hi": 0.05},
      {"s": "CPO (1.75x margin)", "x": 7.31, "y": 0.036, "lo": 0.0, "hi": 0.08},
      {"s": "CPO (1.75x margin)", "x": 7.51, "y": 0.049, "lo": 0.01, "hi": 0.09},
      {"s": "CPO (1.75x margin)", "x": 7.64, "y": 0.055, "lo": 0.01, "hi": 0.1},
      {"s": "CPO (1.75x margin)", "x": 7.84, "y": 0.036, "lo": 0.0, "hi": 0.08},
      {"s": "CPO (1.75x margin)", "x": 8.04, "y": 0.027, "lo": 0.0, "hi": 0.06},
      {"s": "CPO (1.75x margin)", "x": 8.24, "y": 0.04, "lo": 0.0, "hi": 0.08},
      {"s": "CPO (1.75x margin)", "x": 8.43, "y": 0.05, "lo": 0.01, "hi": 0.09},
      {"s": "CPO (1.75x margin)", "x": 8.63, "y": 0.054, "lo": 0.01, "hi": 0.1},
      {"s": "CPO (1.75x margin)", "x": 8.76, "y": 0.04, "lo": 0.0, "hi": 0.08},
      {"s": "CPO (1.75x margin)", "x": 8.95, "y": 0.025, "lo": 0.0, "hi": 0.06},
      {"s": "CPO (1.75x margin)", "x": 9.15, "y": 0.018, "lo": 0.0, "hi": 0.05},
      {"s": "CPO (1.75x margin)", "x": 9.35, "y": 0.022, "lo": 0.0, "hi": 0.05},
      {"s": "CPO (1.75x margin)", "x": 9.55, "y": 0.027, "lo": 0.0, "hi": 0.06},
      {"s": "CPO (1.75x margin)", "x": 9.75, "y": 0.025, "lo": 0.0, "hi": 0.06},
      {"s": "CPO (1.75x margin)", "x": 10.05, "y": 0.022, "lo": 0.0, "hi": 0.05},
      {"s": "CPO (3x margin)", "x": 0.07, "y": 0.45, "lo": 0.3, "hi": 0.6},
      {"s": "CPO (3x margin)", "x": 0.15, "y": 0.34, "lo": 0.2, "hi": 0.45},
      {"s": "CPO (3x margin)", "x": 0.2, "y": 0.21, "lo": 0.1, "hi": 0.32},
      {"s": "CPO (3x margin)", "x": 0.26, "y": 0.117, "lo": 0.05, "hi": 0.2},
      {"s": "CPO (3x margin)", "x": 0.33, "y": 0.054, "lo": 0.02, "hi": 0.1},
      {"s": "CPO (3x margin)", "x": 0.4, "y": 0.036, "lo": 0.01, "hi": 0.07},
      {"s": "CPO (3x margin)", "x": 0.49, "y": 0.027, "lo": 0.0, "hi": 0.05},
      {"s": "CPO (3x margin)", "x": 0.62, "y": 0.022, "lo": 0.0, "hi": 0.045},
      {"s": "CPO (3x margin)", "x": 0.75, "y": 0.009, "lo": 0.0, "hi": 0.02},
      {"s": "CPO (3x margin)", "x": 0.95, "y": 0.002, "lo": 0.0, "hi": 0.005},
      {"s": "CPO (3x margin)", "x": 1.2, "y": 0.0, "lo": 0.0, "hi": 0.002},
      {"s": "CPO (3x margin)", "x": 4.0, "y": 0.0, "lo": 0.0, "hi": 0.001},
      {"s": "CPO (3x margin)", "x": 8.0, "y": 0.0, "lo": 0.0, "hi": 0.001},
      {"s": "CPO (3x margin)", "x": 10.05, "y": 0.0, "lo": 0.0, "hi": 0.001},
      {"s": "CPO+IC4SRL", "x": 0.07, "y": 0.5, "lo": 0.3, "hi": 0.7},
      {"s": "CPO+IC4SRL", "x": 0.2, "y": 0.38, "lo": 0.2, "hi": 0.5},
      {"s": "CPO+IC4SRL", "x": 0.28, "y": 0.25, "lo": 0.12, "hi": 0.38},
      {"s": "CPO+IC4SRL", "x": 0.38, "y": 0.117, "lo": 0.04, "hi": 0.2},
      {"s": "CPO+IC4SRL", "x": 0.49, "y": 0.036, "lo": 0.0, "hi": 0.08},
      {"s": "CPO+IC4SRL", "x": 0.62, "y": 0.018, "lo": 0.0, "hi": 0.04},
      {"s": "CPO+IC4SRL", "x": 0.75, "y": 0.022, "lo": 0.0, "hi": 0.045},
      {"s": "CPO+IC4SRL", "x": 0.88, "y": 0.012, "lo": 0.0, "hi": 0.03},
      {"s": "CPO+IC4SRL", "x": 1.02, "y": 0.004, "lo": 0.0, "hi": 0.01},
      {"s": "CPO+IC4SRL", "x": 1.15, "y": 0.0, "lo": 0.0, "hi": 0.002},
      {"s": "CPO+IC4SRL", "x": 3.12, "y": 0.0, "lo": 0.0, "hi": 0.002},
      {"s": "CPO+IC4SRL", "x": 3.16, "y": 0.07, "lo": 0.0, "hi": 0.12},
      {"s": "CPO+IC4SRL", "x": 3.47, "y": 0.07, "lo": 0.0, "hi": 0.12},
      {"s": "CPO+IC4SRL", "x": 3.5, "y": 0.0, "lo": 0.0, "hi": 0.002},
      {"s": "CPO+IC4SRL", "x": 3.7, "y": 0.0, "lo": 0.0, "hi": 0.002},
      {"s": "CPO+IC4SRL", "x": 3.75, "y": 0.008, "lo": 0.0, "hi": 0.015},
      {"s": "CPO+IC4SRL", "x": 3.8, "y": 0.0, "lo": 0.0, "hi": 0.002},
      {"s": "CPO+IC4SRL", "x": 4.4, "y": 0.0, "lo": 0.0, "hi": 0.002},
      {"s": "CPO+IC4SRL", "x": 4.42, "y": 0.012, "lo": 0.0, "hi": 0.025},
      {"s": "CPO+IC4SRL", "x": 4.63, "y": 0.012, "lo": 0.0, "hi": 0.025},
      {"s": "CPO+IC4SRL", "x": 4.65, "y": 0.0, "lo": 0.0, "hi": 0.002},
      {"s": "CPO+IC4SRL", "x": 5.55, "y": 0.0, "lo": 0.0, "hi": 0.002},
      {"s": "CPO+IC4SRL", "x": 5.62, "y": 0.03, "lo": 0.0, "hi": 0.06},
      {"s": "CPO+IC4SRL", "x": 5.72, "y": 0.045, "lo": 0.0, "hi": 0.08},
      {"s": "CPO+IC4SRL", "x": 5.8, "y": 0.035, "lo": 0.0, "hi": 0.07},
      {"s": "CPO+IC4SRL", "x": 5.86, "y": 0.01, "lo": 0.0, "hi": 0.02},
      {"s": "CPO+IC4SRL", "x": 5.9, "y": 0.0, "lo": 0.0, "hi": 0.002},
      {"s": "CPO+IC4SRL", "x": 10.05, "y": 0.0, "lo": 0.0, "hi": 0.002}
    ]
  },
  "hconcat": [
    {
      "width": 258,
      "height": 172,
      "title": {"text": "(a) Performance", "dx": 19},
      "data": {"name": "perf"},
      "layer": [
        {
          "mark": {"type": "area", "opacity": 0.2, "clip": true},
          "encoding": {
            "x": {"field": "x", "type": "quantitative", "scale": {"domain": [0.06, 10.02], "nice": false, "zero": false}, "axis": {"title": "TotalEnvInteracts", "values": [2, 4, 6, 8], "titlePadding": 4}},
            "y": {"field": "lo", "type": "quantitative", "scale": {"domain": [-9.43, 25.8], "nice": false, "zero": false}, "axis": {"title": "Performance", "values": [0, 10, 20], "titlePadding": 4}},
            "y2": {"field": "hi"},
            "color": {"field": "s", "type": "nominal", "scale": {"domain": ["CPO (1.25x margin)", "CPO (1.5x margin)", "CPO (1.75x margin)", "CPO (3x margin)", "CPO+IC4SRL"], "range": ["#4C72B0", "#55A868", "#C44E52", "#8172B2", "#CCB974"]}, "legend": {"orient": "none", "legendX": 101.7, "legendY": 81.3, "title": null, "symbolType": "stroke", "symbolOpacity": 1}}
          }
        },
        {
          "mark": {"type": "line", "strokeWidth": 1.8, "clip": true},
          "encoding": {
            "x": {"field": "x", "type": "quantitative"},
            "y": {"field": "y", "type": "quantitative"},
            "color": {"field": "s", "type": "nominal", "legend": {"orient": "none", "legendX": 101.7, "legendY": 81.3, "title": null, "symbolType": "stroke", "symbolOpacity": 1}}
          }
        },
        {
          "data": {"values": [{"t": "1e6"}]},
          "mark": {"type": "text", "align": "right", "baseline": "alphabetic", "dy": 29.5, "dx": -1, "font": "DejaVu Sans", "fontSize": 11, "color": "#262626"},
          "encoding": {
            "x": {"datum": 10.02},
            "y": {"datum": -9.43},
            "text": {"field": "t"}
          }
        }
      ]
    },
    {
      "spacing": 0,
      "resolve": {"scale": {"color": "independent"}, "legend": {"color": "independent"}},
      "vconcat": [
        {
          "width": 254,
          "height": 1,
          "view": {"fill": null, "stroke": null},
          "data": {"values": []},
          "mark": "point"
        },
        {
          "width": 254,
          "height": 165.5,
          "title": {"text": "(b) Extrinsic cost", "dx": -43},
          "data": {"name": "cost"},
          "layer": [
            {
              "mark": {"type": "area", "opacity": 0.2, "clip": true},
              "encoding": {
                "x": {"field": "x", "type": "quantitative", "scale": {"domain": [0.07, 10.05], "nice": false, "zero": false}, "axis": {"title": "TotalEnvInteracts", "values": [2, 4, 6, 8], "titlePadding": 4}},
                "y": {"field": "lo", "type": "quantitative", "scale": {"domain": [-0.0488, 0.4], "nice": false, "zero": false}, "axis": {"title": "AverageEpGroundtruthCost", "values": [0, 0.1, 0.2, 0.3, 0.4], "format": ".1f", "titlePadding": 6}},
                "y2": {"field": "hi"},
                "color": {"field": "s", "type": "nominal", "scale": {"domain": ["CPO (1.25x margin)", "CPO (1.5x margin)", "CPO (1.75x margin)", "CPO (3x margin)", "CPO+IC4SRL"], "range": ["#4C72B0", "#55A868", "#C44E52", "#8172B2", "#CCB974"]}, "legend": {"orient": "none", "legendX": 97.4, "legendY": 4.2, "title": null, "symbolType": "stroke", "symbolOpacity": 1}}
              }
            },
            {
              "mark": {"type": "line", "strokeWidth": 1.8, "clip": true},
              "encoding": {
                "x": {"field": "x", "type": "quantitative"},
                "y": {"field": "y", "type": "quantitative"},
                "color": {"field": "s", "type": "nominal", "legend": {"orient": "none", "legendX": 97.4, "legendY": 4.2, "title": null, "symbolType": "stroke", "symbolOpacity": 1}}
              }
            },
            {
              "data": {"values": [{"t": "1e6"}]},
              "mark": {"type": "text", "align": "right", "baseline": "alphabetic", "dy": 29.5, "dx": -1, "font": "DejaVu Sans", "fontSize": 11, "color": "#262626"},
              "encoding": {
                "x": {"datum": 10.05},
                "y": {"datum": -0.0488},
                "text": {"field": "t"}
              }
            }
          ]
        }
      ]
    }
  ]
}
